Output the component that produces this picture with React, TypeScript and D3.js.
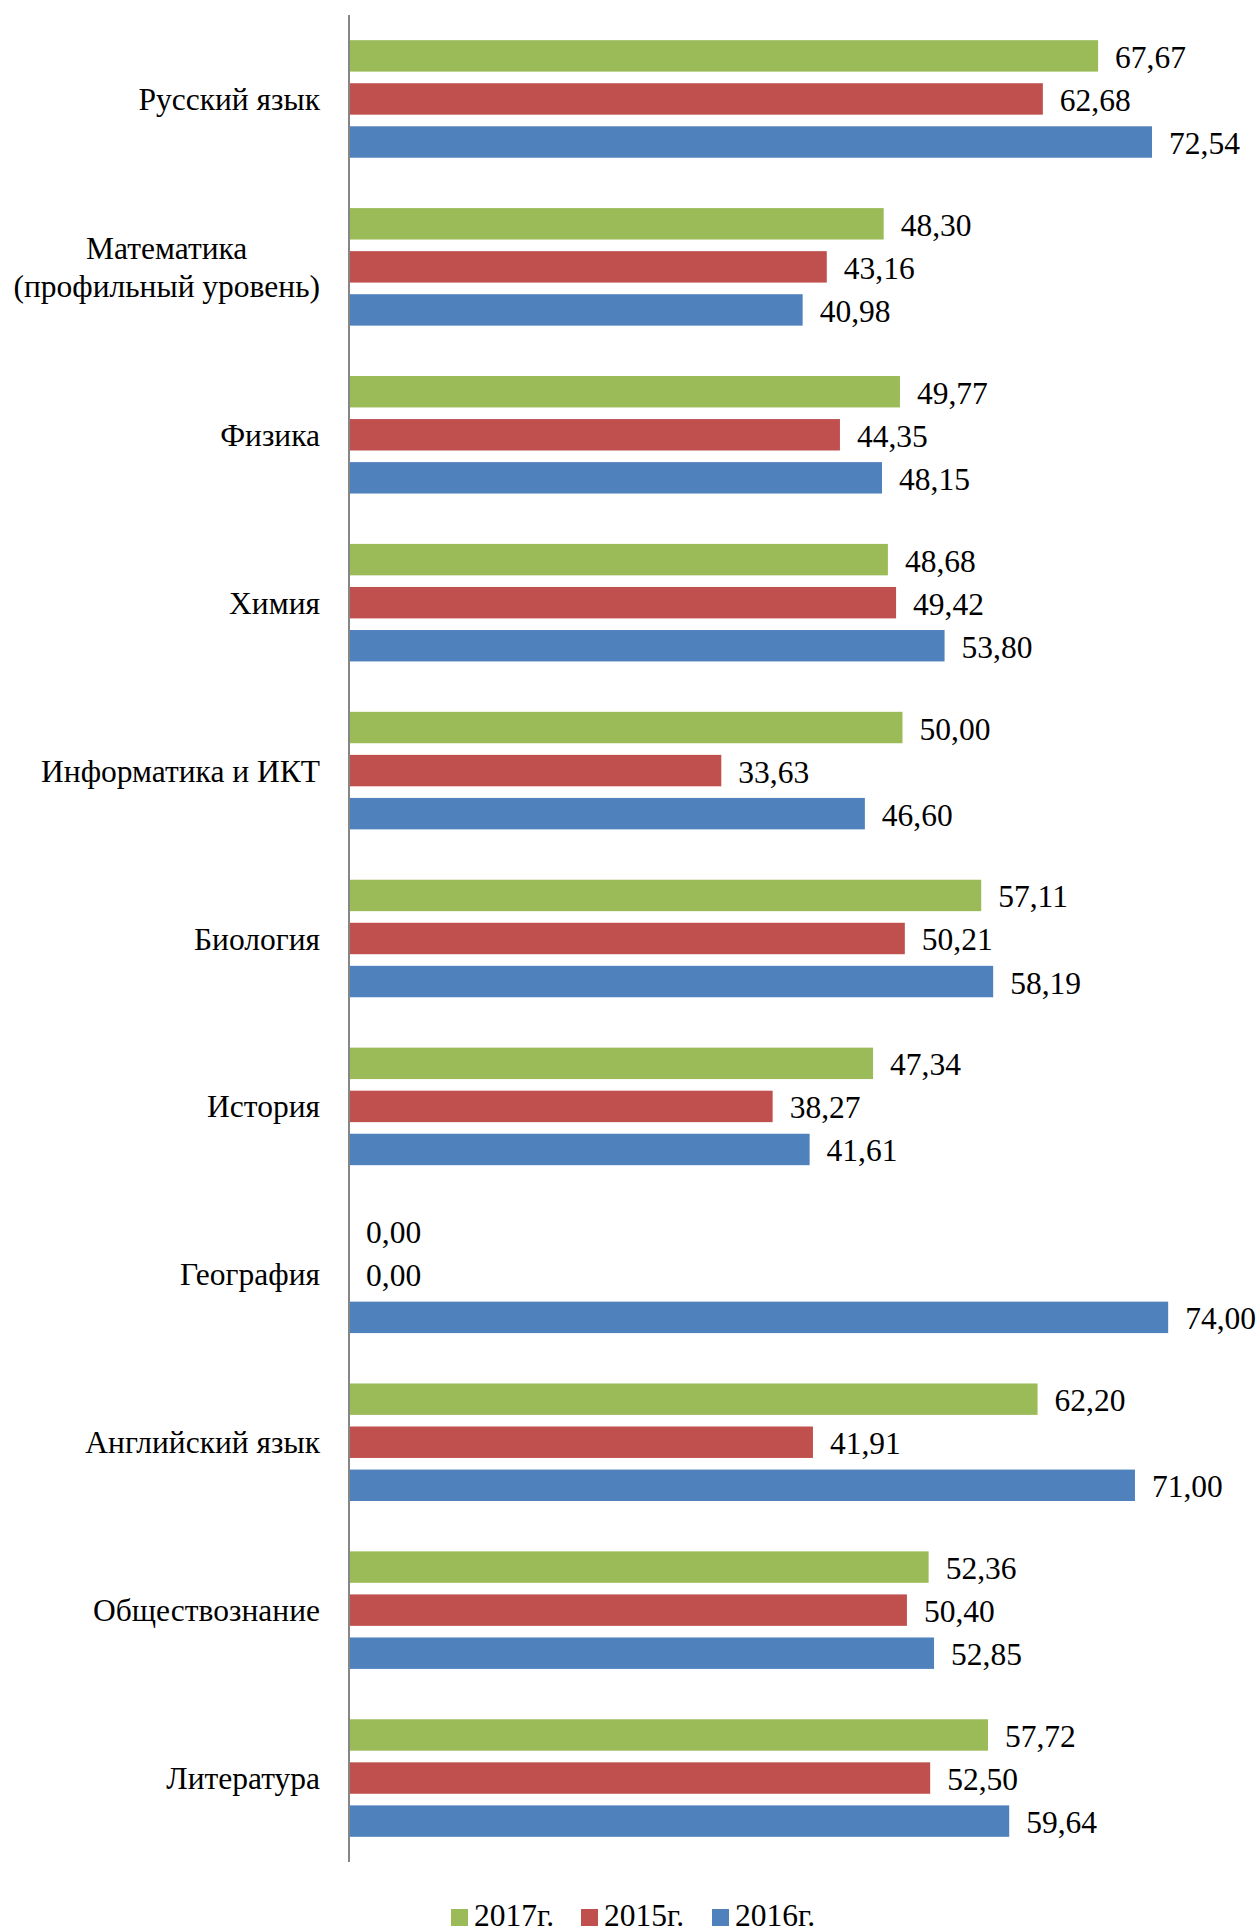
import React from "react";
import * as d3 from "d3";

const categories = [
  ["Русский язык"],
  ["Математика", "(профильный уровень)"],
  ["Физика"],
  ["Химия"],
  ["Информатика и ИКТ"],
  ["Биология"],
  ["История"],
  ["География"],
  ["Английский язык"],
  ["Обществознание"],
  ["Литература"],
];
const seriesNames = ["2017г.", "2015г.", "2016г."];
const values2017 = [67.67, 48.3, 49.77, 48.68, 50.0, 57.11, 47.34, 0.0, 62.2, 52.36, 57.72];
const values2015 = [62.68, 43.16, 44.35, 49.42, 33.63, 50.21, 38.27, 0.0, 41.91, 50.4, 52.5];
const values2016 = [72.54, 40.98, 48.15, 53.8, 46.6, 58.19, 41.61, 74.0, 71.0, 52.85, 59.64];
const colors = ["#9BBB59", "#C0504D", "#4F81BD"];

const W = 1260;
const H = 1932;
const axisX = 349;
const top = 15;
const bottom = 1862;
const FONT = "'Liberation Serif', 'Times New Roman', serif";
const fs = 31.5;

function measure(t: string): number {
  if (typeof document === "undefined") return t.length * fs * 0.5;
  const c = document.createElement("canvas").getContext("2d");
  if (!c) return t.length * fs * 0.5;
  c.font = `${fs}px 'Liberation Serif'`;
  return c.measureText(t).width;
}

export default function App() {
  const series = [values2017, values2015, values2016];
  const idx = categories.map((_, i) => String(i));
  const y = d3.scaleBand<string>().domain(idx).range([top, bottom]).paddingInner(0.3).paddingOuter(0.15);
  const inner = d3.scaleBand<string>().domain(["0", "1", "2"]).range([0, y.bandwidth()]).paddingInner(0.27);
  const x = d3.scaleLinear().domain([0, 80]).range([axisX, axisX + 80 * 11.07]);
  const fmt = (v: number) => v.toFixed(2).replace(".", ",");
  const legendX = [451, 581, 712];
  const labelRight = 320;
  return (
    <svg width={W} height={H} style={{ position: "absolute", left: 0, top: 0, background: "#fff" }} fontFamily={FONT}>
      <rect width={W} height={H} fill="#fff" />
      {categories.map((lines, i) => {
        const yc = (y(String(i)) as number) + y.bandwidth() / 2;
        const multi = lines.length > 1;
        const maxW = multi ? Math.max(...lines.map(measure)) : 0;
        const cx = multi ? labelRight - maxW / 2 : labelRight;
        return (
          <g key={i}>
            <text x={cx} y={yc} textAnchor={multi ? "middle" : "end"} fontSize={fs} fill="#000">
              {lines.map((l, k) => (
                <tspan key={k} x={cx} dy={k === 0 ? `${0.35 - (lines.length - 1) * 0.6}em` : "1.2em"}>
                  {l}
                </tspan>
              ))}
            </text>
            {series.map((vals, s) => {
              const by = (y(String(i)) as number) + (inner(String(s)) as number);
              const bh = inner.bandwidth();
              const v = vals[i];
              return (
                <g key={s}>
                  {v > 0 && <rect x={x(0)} y={by} width={x(v) - x(0)} height={bh} fill={colors[s]} />}
                  <text x={x(v) + 17} y={by + bh / 2} dy="0.38em" fontSize={fs} fill="#000">
                    {fmt(v)}
                  </text>
                </g>
              );
            })}
          </g>
        );
      })}
      <line x1={axisX} x2={axisX} y1={top} y2={bottom} stroke="#868686" strokeWidth={2} />
      {seriesNames.map((n, s) => (
        <g key={n}>
          <rect x={legendX[s]} y={1909} width={17} height={17} fill={colors[s]} />
          <text x={legendX[s] + 23} y={1926} fontSize={fs} fill="#000">
            {n}
          </text>
        </g>
      ))}
    </svg>
  );
}
